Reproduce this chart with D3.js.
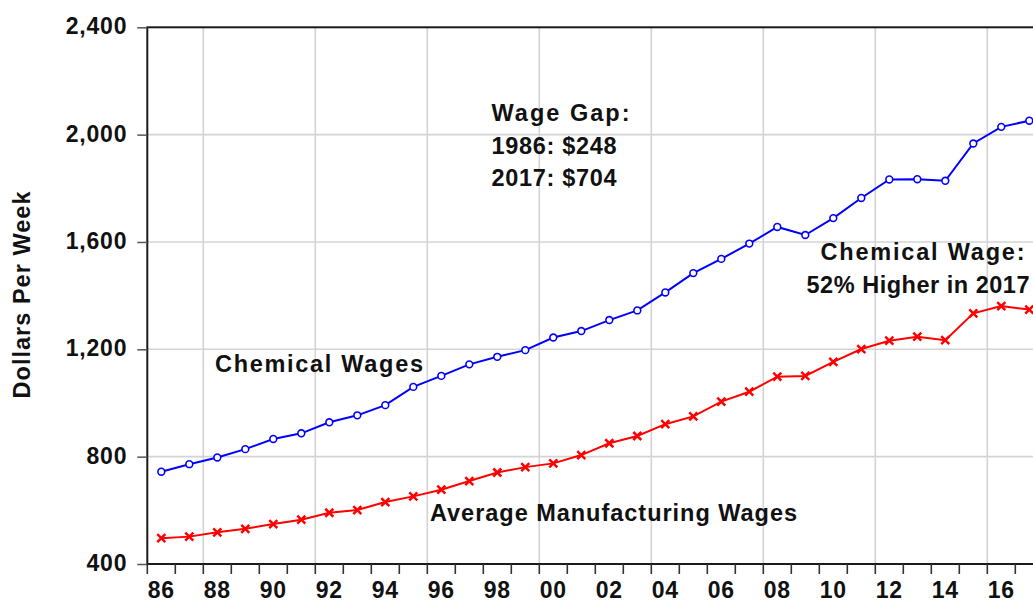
<!DOCTYPE html>
<html>
<head>
<meta charset="utf-8">
<script src="https://cdn.jsdelivr.net/npm/d3@7"></script>
<style>
  body { margin: 0; background: #fff; overflow: hidden; }
  svg text { font-family: "Liberation Sans", Arial, sans-serif; font-weight: bold; fill: #111; }
</style>
</head>
<body>
<div id="chart"></div>
<script>
// years 1986..2017
const years = d3.range(1986, 2018);
// weekly wages, chemical industry
const chemical = [744, 772, 797, 828, 866, 887, 928, 954, 992, 1060,
  1101, 1144, 1172, 1197, 1244, 1268, 1309, 1345, 1412, 1484,
  1537, 1594, 1656, 1626, 1689, 1764, 1833, 1834, 1828, 1967,
  2029, 2052];
// weekly wages, all manufacturing
const manufacturing = [496, 502, 518, 531, 549, 565, 591, 601, 631, 652,
  677, 709, 741, 761, 775, 806, 850, 877, 921, 950,
  1005, 1042, 1098, 1101, 1153, 1201, 1232, 1247, 1234, 1334,
  1361, 1348];
const yTicks = [400, 800, 1200, 1600, 2000, 2400];

const width = 1033;
const height = 603;
const margin = { top: 27.3, left: 147.3, bottom: 39 };

const svg = d3.select('#chart')
  .append('svg')
  .attr('width', width)
  .attr('height', height);

// each year is one band, points sit in the middle of it
const x = d3.scaleBand()
  .domain(years)
  .range([margin.left, margin.left + years.length * 28])
  .padding(0);
const y = d3.scaleLinear()
  .domain([400, 2400])
  .range([height - margin.bottom, margin.top]);
const xRight = margin.left + years.length * 28;
const cx = yr => x(yr) + x.bandwidth() / 2;

// grid
const grid = svg.append('g').attr('stroke', '#d4d4d4').attr('stroke-width', 1.6);
grid.selectAll('.hg')
  .data(yTicks.slice(1, -1))
  .enter().append('line')
  .attr('x1', margin.left).attr('x2', xRight)
  .attr('y1', d => y(d)).attr('y2', d => y(d));
grid.selectAll('.vg')
  .data(years.filter(d => (d - 1988) % 4 === 0))
  .enter().append('line')
  .attr('x1', d => x(d)).attr('x2', d => x(d))
  .attr('y1', y(2400)).attr('y2', y(400));

// frame
svg.append('rect')
  .attr('x', margin.left).attr('y', y(2400))
  .attr('width', xRight - margin.left).attr('height', y(400) - y(2400))
  .attr('fill', 'none').attr('stroke', '#1a1a1a').attr('stroke-width', 2);

// y axis
const yAxis = svg.append('g')
  .attr('transform', `translate(${margin.left},0)`)
  .call(d3.axisLeft(y).tickValues(yTicks).tickSize(10).tickPadding(10).tickFormat(d3.format(',')));
yAxis.select('.domain').remove();
yAxis.selectAll('.tick line').attr('stroke', '#555').attr('stroke-width', 1.5);
yAxis.selectAll('.tick text')
  .attr('fill', '#111')
  .style('font-size', '23px')
  .style('letter-spacing', '0.8px')
  .attr('dy', '0.28em');

// x axis, ticks at year boundaries, labels on even years
const xAxis = svg.append('g')
  .attr('transform', `translate(0,${y(400)})`);
xAxis.selectAll('line')
  .data(years.concat([2018]))
  .enter().append('line')
  .attr('x1', d => margin.left + (d - 1986) * x.bandwidth())
  .attr('x2', d => margin.left + (d - 1986) * x.bandwidth())
  .attr('y1', 0).attr('y2', 10)
  .attr('stroke', '#333').attr('stroke-width', 1.6);
xAxis.selectAll('text')
  .data(years.filter(d => d % 2 === 0))
  .enter().append('text')
  .attr('x', d => cx(d))
  .attr('y', 33.5)
  .attr('text-anchor', 'middle')
  .style('font-size', '23px')
  .style('letter-spacing', '0.8px')
  .text(d => String(d).slice(2));

// lines
const line = d3.line()
  .x((d, i) => cx(years[i]))
  .y(d => y(d));

svg.append('path')
  .datum(manufacturing)
  .attr('d', line)
  .attr('fill', 'none')
  .attr('stroke', '#ff0000')
  .attr('stroke-width', 2);
svg.append('g').selectAll('path')
  .data(manufacturing)
  .enter().append('path')
  .attr('transform', (d, i) => `translate(${cx(years[i])},${y(d)})`)
  .attr('d', 'M-4,-4L4,4M-4,4L4,-4')
  .attr('stroke', '#ff0000')
  .attr('stroke-width', 2.5);

svg.append('path')
  .datum(chemical)
  .attr('d', line)
  .attr('fill', 'none')
  .attr('stroke', '#0000ff')
  .attr('stroke-width', 2);
svg.append('g').selectAll('circle')
  .data(chemical)
  .enter().append('circle')
  .attr('cx', (d, i) => cx(years[i]))
  .attr('cy', d => y(d))
  .attr('r', 3.4)
  .attr('fill', '#fff')
  .attr('stroke', '#0000ff')
  .attr('stroke-width', 1.6);

// labels
function label(txt, lx, ly, len) {
  svg.append('text')
    .attr('x', lx).attr('y', ly)
    .attr('textLength', len)
    .attr('lengthAdjust', 'spacing')
    .style('font-size', '23.5px')
    .text(txt);
}
label('Wage Gap:', 491.5, 120.5, 138);
label('1986: $248', 491.5, 154, 125);
label('2017: $704', 491.5, 186, 125);
label('Chemical Wages', 215, 371.5, 208);
label('Average Manufacturing Wages', 430, 521, 367);
label('Chemical Wage:', 820.5, 260, 204);
label('52% Higher in 2017', 806.5, 292.5, 223);

svg.append('text')
  .attr('transform', 'translate(29.5,295) rotate(-90)')
  .attr('text-anchor', 'middle')
  .attr('textLength', 207)
  .attr('lengthAdjust', 'spacing')
  .style('font-size', '23.5px')
  .text('Dollars Per Week');
</script>
</body>
</html>
